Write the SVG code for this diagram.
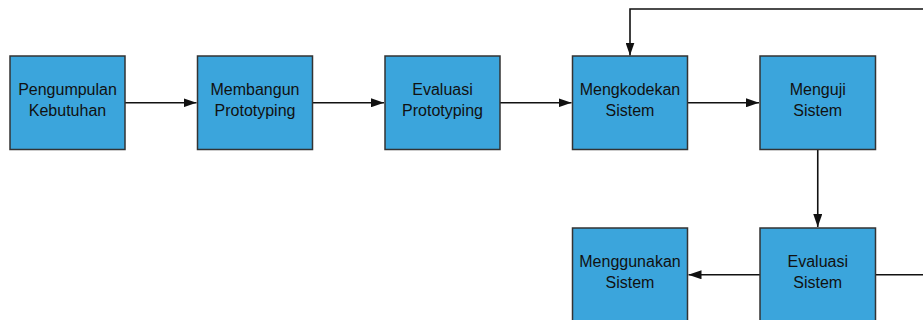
<svg xmlns="http://www.w3.org/2000/svg" width="923" height="320" viewBox="0 0 923 320">
<defs>
<style>
.box{fill:#3ba5dc;stroke:#333333;stroke-width:1.5}
.t{font-family:"Liberation Sans",Arial,sans-serif;font-size:16px;fill:#111111;text-anchor:middle}
.c{fill:none;stroke:#111111;stroke-width:1.6}
</style>
<marker id="ah" markerWidth="13" markerHeight="9" refX="13" refY="4.5" orient="auto" markerUnits="userSpaceOnUse">
<path d="M0,0 L13,4.5 L0,9 Z" fill="#111111"/>
</marker>
</defs>
<rect width="923" height="320" fill="#ffffff"/>
<g id="connectors">
<path class="c" d="M125,102.75 H196.5" marker-end="url(#ah)"/>
<path class="c" d="M312.5,102.75 H384" marker-end="url(#ah)"/>
<path class="c" d="M500,102.75 H571.5" marker-end="url(#ah)"/>
<path class="c" d="M687.5,102.75 H759" marker-end="url(#ah)"/>
<path class="c" d="M817.75,149.5 V227" marker-end="url(#ah)"/>
<path class="c" d="M760,274.75 H688.5" marker-end="url(#ah)"/>
<path class="c" d="M875.5,274.75 H930 V9 H630 V55.5" marker-end="url(#ah)"/>
</g>
<g id="n1"><rect class="box" x="10" y="56" width="115" height="93.5"/><text class="t" x="67.5" y="95">Pengumpulan</text><text class="t" x="67.5" y="116">Kebutuhan</text></g>
<g id="n2"><rect class="box" x="197.5" y="56" width="115" height="93.5"/><text class="t" x="255" y="95">Membangun</text><text class="t" x="255" y="116">Prototyping</text></g>
<g id="n3"><rect class="box" x="385" y="56" width="115" height="93.5"/><text class="t" x="442.5" y="95">Evaluasi</text><text class="t" x="442.5" y="116">Prototyping</text></g>
<g id="n4"><rect class="box" x="572.5" y="56" width="115" height="93.5"/><text class="t" x="630" y="95">Mengkodekan</text><text class="t" x="630" y="116">Sistem</text></g>
<g id="n5"><rect class="box" x="760" y="56" width="115.5" height="93.5"/><text class="t" x="817.75" y="95">Menguji</text><text class="t" x="817.75" y="116">Sistem</text></g>
<g id="n6"><rect class="box" x="760" y="228" width="115.5" height="93.5"/><text class="t" x="817.75" y="267">Evaluasi</text><text class="t" x="817.75" y="288">Sistem</text></g>
<g id="n7"><rect class="box" x="572.5" y="228" width="115" height="93.5"/><text class="t" x="630" y="267">Menggunakan</text><text class="t" x="630" y="288">Sistem</text></g>
</svg>
